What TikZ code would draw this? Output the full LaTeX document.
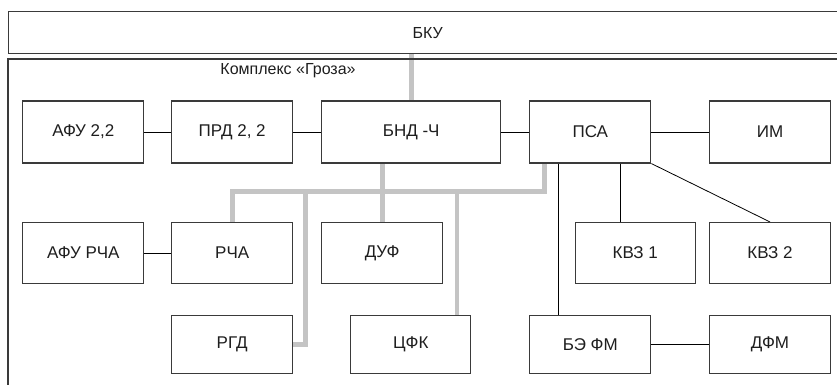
\documentclass[tikz,border=0pt]{standalone}
\usepackage{fontspec}
\setmainfont{Liberation Sans}
\usetikzlibrary{positioning,backgrounds}
\definecolor{grozaLine}{HTML}{3A3A3A}
\definecolor{grozaBus}{HTML}{C4C4C4}
\definecolor{grozaText}{HTML}{1E1E1E}

\begin{document}
\begin{tikzpicture}[x=1pt,y=-1pt,
  blk/.style={draw=grozaLine,line width=1.1pt,fill=white,minimum width=121pt,minimum height=61pt,inner sep=0pt,text=grozaText,font=\fontsize{17}{20}\selectfont},
  wire/.style={draw=black,line width=0.8pt},
  gbus/.style={draw=grozaBus,line width=4.6pt}]
  \useasboundingbox (0,0) rectangle (837,385);
  \clip (0,0) rectangle (837,385);
  % outer frames
  \node[draw=grozaLine,line width=1.3pt,minimum width=838pt,minimum height=42pt,inner sep=0pt,anchor=north west,text=grozaText,font=\fontsize{16}{19}\selectfont] (bku) at (8,11) {БКУ};
  \draw[grozaLine,line width=1.3pt] (8,400) -- (8,59) -- (850,59);
  \node[text=grozaText,font=\fontsize{16}{19}\selectfont,inner sep=0pt] (groza) at (288,71) {Комплекс «Гроза»};
  % first row
  \node[blk,minimum height=62pt] (afu22) at (83.3,132) {АФУ 2,2};
  \node[blk,minimum height=62pt] (prd22) at (232.2,132) {ПРД 2, 2};
  \node[blk,minimum height=62pt,minimum width=179pt] (bnd) at (411.2,132) {БНД -Ч};
  \node[blk,minimum height=62pt] (psa) at (590.3,132) {ПСА};
  \node[blk,minimum height=62pt] (im) at (770,132) {ИМ};
  % second row
  \node[blk] (afurcha) at (83.3,253) {АФУ РЧА};
  \node[blk] (rcha) at (232.2,253) {РЧА};
  \node[blk] (duf) at (382.2,253) {ДУФ};
  \node[blk,minimum width=120pt] (kvz1) at (635.2,253) {КВЗ 1};
  \node[blk] (kvz2) at (770,253) {КВЗ 2};
  % third row
  \node[blk,minimum height=58pt] (rgd) at (232.2,344.2) {РГД};
  \node[blk,minimum height=58pt,minimum width=120pt] (tsfk) at (410.8,344.2) {ЦФК};
  \node[blk,minimum height=58pt] (befm) at (590.3,344.2) {БЭ ФМ};
  \node[blk,minimum height=58pt] (dfm) at (770,344.2) {ДФМ};
  \coordinate (busy) at (0,191.5);
  \begin{scope}[on background layer]
    % grey bus
    \draw[gbus] (bku.south -| bnd.north) -- (bnd.north);
    \draw[gbus] (rcha.north) |- ([xshift=15pt]psa.south west |- busy) -- ([xshift=15pt]psa.south west);
    \draw[gbus] (bnd.south -| duf.north) -- (duf.north);
    \draw[gbus] (rgd.east) -| ([xshift=12.5pt]rgd.east |- busy);
    \draw[gbus] ([xshift=46pt]tsfk.north) -- ([xshift=46pt]tsfk.north |- busy);
    % links
    \draw[wire] (afu22) -- (prd22);
    \draw[wire] (prd22) -- (bnd);
    \draw[wire] (bnd) -- (psa);
    \draw[wire] (psa) -- (im);
    \draw[wire] (afurcha) -- (rcha);
    \draw[wire] (befm) -- (dfm);
    \draw[wire] ([xshift=29pt]psa.south west) -- ([xshift=29pt]psa.south west |- befm.north);
    \draw[wire] ([xshift=-15pt]kvz1.north) -- ([xshift=-15pt]kvz1.north |- psa.south);
    \draw[wire] (psa.south east) -- (kvz2.north);
  \end{scope}
\end{tikzpicture}
\end{document}
